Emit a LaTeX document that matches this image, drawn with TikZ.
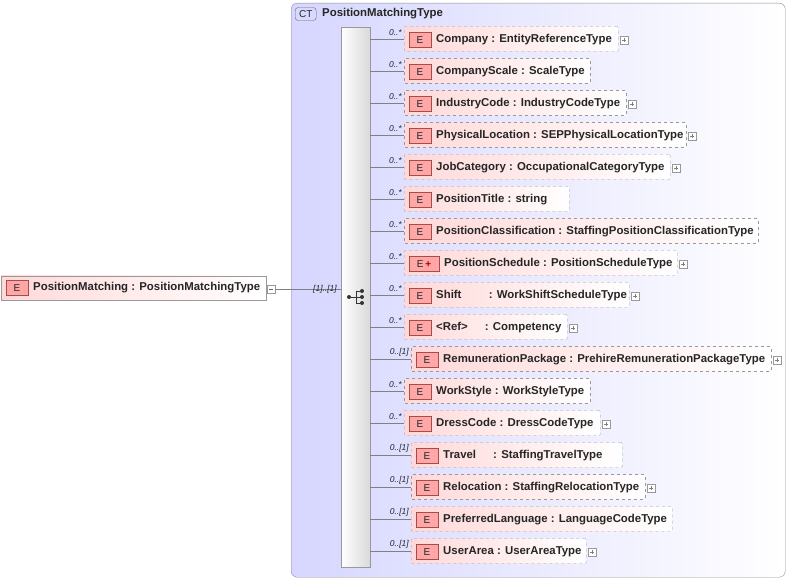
\documentclass[tikz,border=0pt]{standalone}
\usepackage{fontspec}
\setmainfont{Liberation Sans}
\begin{document}
\begin{tikzpicture}[x=1pt,y=-1pt,
  every node/.style={font=\fontsize{11.4}{12}\selectfont\bfseries, text=black!85},
  elbox/.style={draw=black!40, dashed, left color=red!15, right color=white, rounded corners=1pt},
  ebadge/.style={draw=red!50!black!70, fill=red!35, minimum width=22pt, minimum height=15pt, inner sep=0pt, font=\fontsize{10}{11}\selectfont\mdseries},
  mult/.style={font=\fontsize{8.5}{9}\selectfont\itshape\mdseries, anchor=south east, inner sep=1pt},
  plus/.style={draw=black!40, fill=white, minimum size=8pt, inner sep=0pt},
  conn/.style={draw=black!50}]
\useasboundingbox (0,0) rectangle (788,580);
% CT box
\node[draw=black!45, rounded corners=6pt, left color=blue!16, right color=white, minimum width=494pt, minimum height=574pt, anchor=north west, inner sep=0pt] (ct) at (291,3) {};
\node[draw=black!60, fill=blue!15, rounded corners=3pt, font=\fontsize{10}{11}\selectfont\mdseries, minimum width=21pt, minimum height=13pt, inner sep=0pt, anchor=west] (ctb) at (295,14) {CT};
\node[anchor=west, inner sep=0pt] (ctt) at (322,14) {PositionMatchingType};
% sequence bar
\node[draw=black!40, left color=white, right color=black!15, minimum width=29pt, minimum height=540pt, anchor=north west, inner sep=0pt] (seq) at (341,27) {};
% sequence icon
\draw[black!80, line width=0.9pt] (349,297) -- (356,297) (356,291) -- (356,303) (356,291) -- (362,291) (356,297)--(362,297) (356,303)--(362,303);
\fill[black!80] (349,297) circle (2) (362,291) circle (2) (362,297) circle (2) (362,303) circle (2);
% left element
\node[draw=black!40, left color=red!15, right color=white, minimum width=265pt, minimum height=24pt, anchor=west, inner sep=0pt] (pm) at (1,288) {};
\node[ebadge] (pmE) at (17,288) {E};
\node[anchor=west, inner sep=0pt] (pmt) at (33,288) {PositionMatching : PositionMatchingType};
\node[plus, anchor=west] (pmm) at (267,289) {};
\draw[black!60] (269,289) -- (273,289);
\draw[conn] (pmm.east) -- (seq.west |- 0,289) coordinate (sl);
\node[mult, anchor=south east] (pmmult) at (338,294) {[1]..[1]};
% elements
\newcommand{\myel}[7]{%
 \node[elbox, minimum width=#3-#2, minimum height=25pt, anchor=west, inner sep=0pt] (b#1) at (#2,#1+2) {};
 \node[ebadge] (e#1) at (#2+16,#1+3) {#7};
 \node[anchor=west, inner sep=0pt] (t#1) at (#2+32,#1+2.5) {#4};
 \draw[conn] (seq.east |- 0,#1+2) -- (b#1.west |- 0,#1+2);
 \node[mult] (m#1) at (#2-1,#1) {#5};
 \ifx#6y\node[plus, anchor=west] (p#1) at (#3+2,#1+3) {};
  \draw[black!50] (#3+4,#1+3) -- (#3+8,#1+3) (#3+6,#1+1) -- (#3+6,#1+5);\fi}
\myel{37}{404}{618}{Company : EntityReferenceType}{0..*}{y}{E}
\myel{69}{404}{590}{CompanyScale : ScaleType}{0..*}{n}{E}
\myel{101}{404}{626}{IndustryCode : IndustryCodeType}{0..*}{y}{E}
\myel{133}{404}{686}{PhysicalLocation : SEPPhysicalLocationType}{0..*}{y}{E}
\myel{165}{404}{670}{JobCategory : OccupationalCategoryType}{0..*}{y}{E}
\myel{197}{404}{569}{PositionTitle : string}{0..*}{n}{E}
\myel{229}{404}{758}{PositionClassification : StaffingPositionClassificationType}{0..*}{n}{E}
\node[elbox, minimum width=273pt, minimum height=25pt, anchor=west, inner sep=0pt] (b261) at (404,263) {};
\node[ebadge, minimum width=30pt] (e261) at (424,264) {E\,\textcolor{red!70!black}{\bfseries+}};
\node[anchor=west, inner sep=0pt] (t261) at (444,263.5) {PositionSchedule : PositionScheduleType};
\draw[conn] (seq.east |- 0,263) -- (b261.west |- 0,263);
\node[mult] (m261) at (403,261) {0..*};
\node[plus, anchor=west] (p261) at (679,264) {};
\draw[black!50] (681,264) -- (685,264) (683,262) -- (683,266);
\myel{293}{404}{629}{Shift\hspace{2.4em}: WorkShiftScheduleType}{0..*}{y}{E}
\myel{325}{404}{567}{<Ref>\hspace{1.5em}: Competency}{0..*}{y}{E}
\myel{357}{411}{771}{RemunerationPackage : PrehireRemunerationPackageType}{0..[1]}{y}{E}
\myel{389}{404}{590}{WorkStyle : WorkStyleType}{0..*}{n}{E}
\myel{421}{404}{600}{DressCode : DressCodeType}{0..*}{y}{E}
\myel{453}{411}{622}{Travel\hspace{1.5em}: StaffingTravelType}{0..[1]}{n}{E}
\myel{485}{411}{645}{Relocation : StaffingRelocationType}{0..[1]}{y}{E}
\myel{517}{411}{672}{PreferredLanguage : LanguageCodeType}{0..[1]}{n}{E}
\myel{549}{411}{586}{UserArea : UserAreaType}{0..[1]}{y}{E}
\end{tikzpicture}
\end{document}
